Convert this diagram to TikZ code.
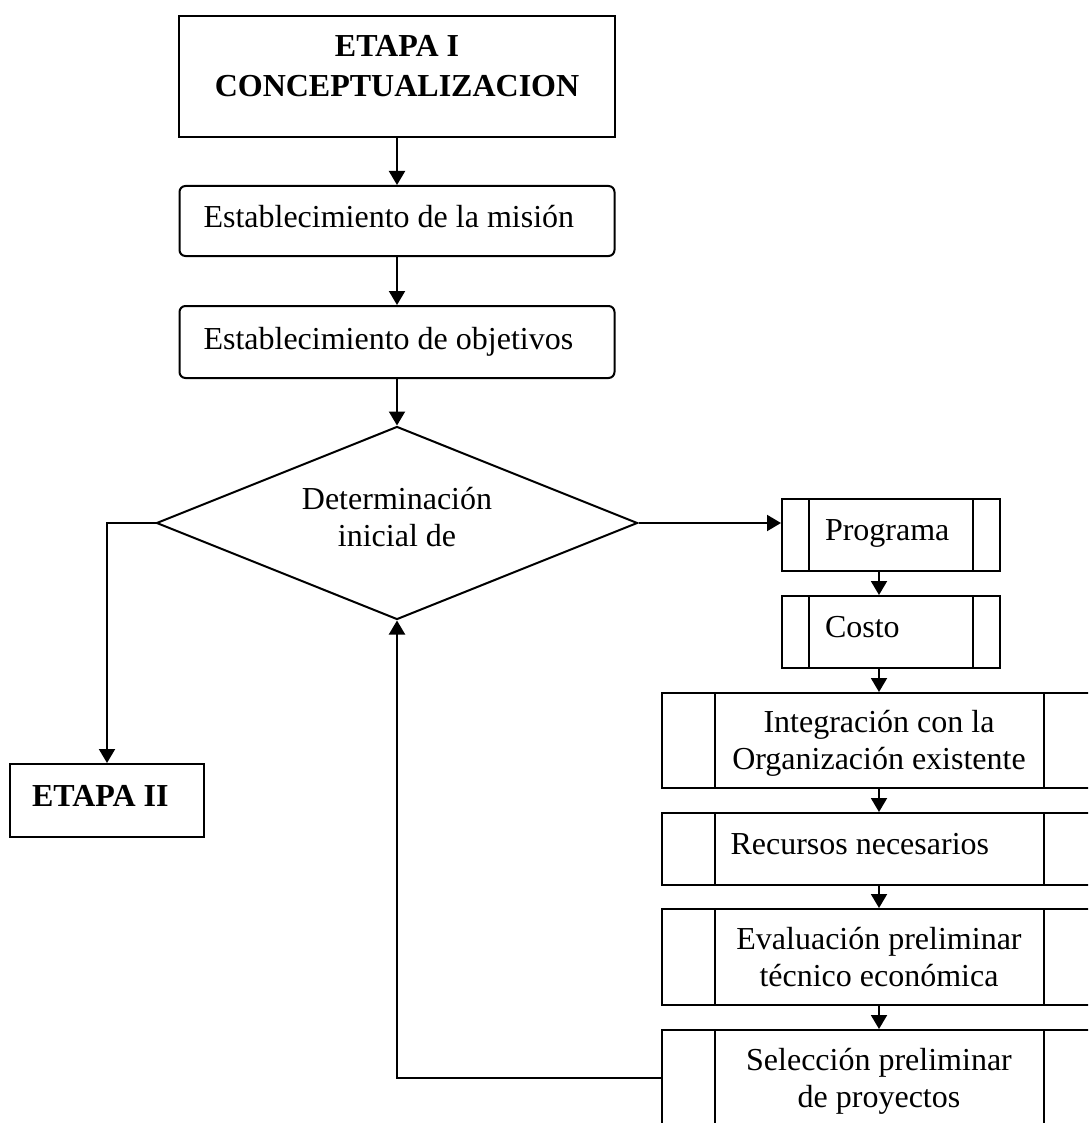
\documentclass[tikz,border=0pt]{standalone}
\usepackage{fontspec}
\setmainfont{Liberation Serif}
\usetikzlibrary{arrows.meta,shapes.geometric}
\begin{document}
\begin{tikzpicture}[x=1pt,y=-1pt,
  line width=2pt,
  every node/.style={font=\fontsize{32}{37}\selectfont, inner sep=0pt,
    execute at begin node={\spaceskip=0.25em\relax}},
  flow/.style={-{Triangle[width=16pt,length=14pt]}},
  oneline/.style={text height=22pt, text depth=11pt},
  box/.style={draw, rectangle},
  roundbox/.style={draw, rectangle, rounded corners=6pt, minimum width=435pt,
    inner xsep=24pt, text width=387pt, align=left, text height=22pt, text depth=8pt},
  procbox/.style={draw, rectangle, path picture={
      \draw[line width=2pt] ([xshift=#1]path picture bounding box.north west)
        -- ([xshift=#1]path picture bounding box.south west);
      \draw[line width=2pt] ([xshift=-#1]path picture bounding box.north east)
        -- ([xshift=-#1]path picture bounding box.south east);}},
  smallproc/.style={procbox=27pt, minimum width=218pt, minimum height=72pt,
    inner xsep=43pt, text width=132pt, align=left, oneline},
  bigproc/.style={procbox=53pt, minimum width=435pt, minimum height=#1,
    text width=320pt, align=center}
]
\clip (0,0) rectangle (1088,1123);

% stage I and its first steps
\node[box, minimum width=436pt, minimum height=121pt, align=center,
  font=\fontsize{32}{40}\selectfont\bfseries, text depth=20.6pt]
  (etapaI) at (397,76.5) {ETAPA I\\CONCEPTUALIZACION};
\node[roundbox, minimum height=70pt] (mision) at (397,221) {Establecimiento de la misión};
\node[roundbox, minimum height=72pt] (objetivos) at (397,342) {Establecimiento de objetivos};

% decision
\node[draw, diamond, aspect=2.5, minimum width=481pt, minimum height=193pt,
  align=center, text depth=12pt] (decision) at (397,523) {Determinación\\inicial de};

% stage II
\node[box, minimum width=194pt, minimum height=73pt, inner xsep=22pt,
  text width=150pt, align=left, font=\fontsize{32}{37}\selectfont\bfseries, oneline]
  (etapaII) at (107,800.5) {ETAPA II};

% right-hand column of sub-processes
\node[smallproc] (programa) at (891,535) {Programa};
\node[smallproc] (costo) at (891,632) {Costo};
\node[bigproc=95pt, text depth=38pt] (integracion) at (879,740.5) {Integración con la\\Organización existente};
\node[procbox=53pt, minimum width=435pt, minimum height=72pt, inner xsep=69pt,
  text width=297pt, align=left, oneline] (recursos) at (879,849) {Recursos necesarios};
\node[bigproc=96pt] (evaluacion) at (879,957) {Evaluación preliminar\\técnico económica};
\node[bigproc=102pt] (seleccion) at (879,1081) {Selección preliminar\\de proyectos};

% connectors
\draw[flow] (etapaI) -- (mision);
\draw[flow] (mision) -- (objetivos);
\draw[flow] (objetivos) -- (decision.north);
\draw[flow] (decision.east) -- (decision.east -| programa.west);
\draw[flow] (decision.west) -| (etapaII.north);
\draw[flow] (programa.south -| integracion.center) -- (costo.north -| integracion.center);
\draw[flow] (costo.south -| integracion.center) -- (integracion.north);
\draw[flow] (integracion) -- (recursos);
\draw[flow] (recursos) -- (evaluacion);
\draw[flow] (evaluacion) -- (seleccion);
\draw[flow] ([yshift=3pt]seleccion.west) -| (decision.south);
\end{tikzpicture}
\end{document}
